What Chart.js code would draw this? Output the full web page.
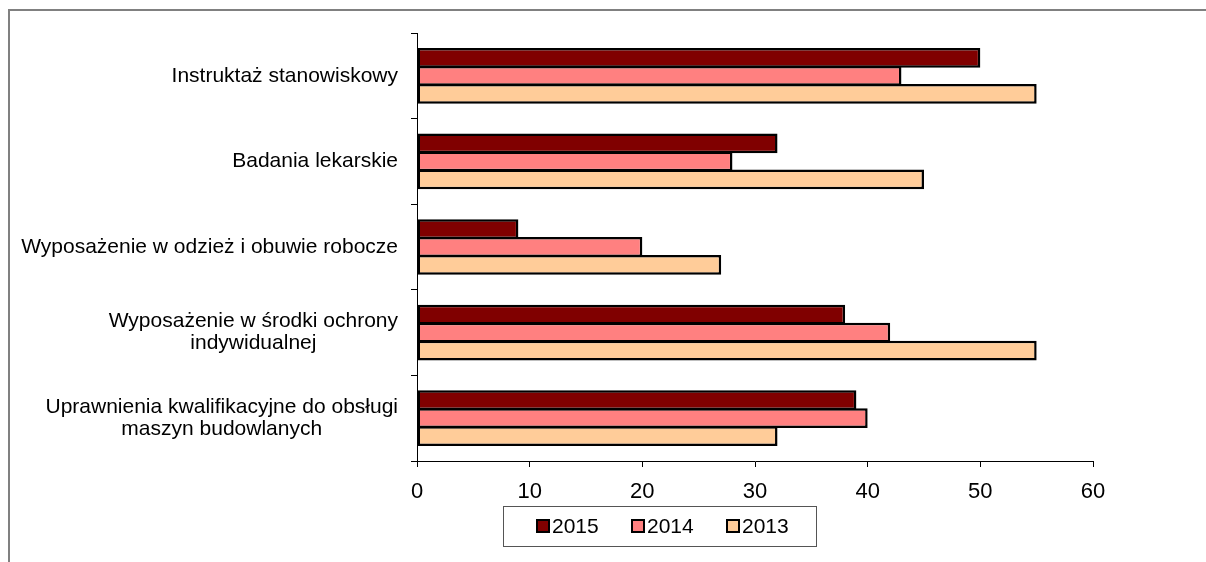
<!DOCTYPE html>
<html>
<head>
<meta charset="utf-8">
<script src="https://cdn.jsdelivr.net/npm/chart.js@4/dist/chart.umd.min.js"></script>
<style>
  html, body { margin: 0; padding: 0; background: #fff; }
  #wrap { width: 1206px; height: 562px; }
</style>
</head>
<body>
<div id="wrap"><canvas id="chart" width="1206" height="562"></canvas></div>
<script>
// chart data
const categories = [
    ['Instruktaż stanowiskowy'],
    ['Badania lekarskie'],
    ['Wyposażenie w odzież i obuwie robocze'],
    ['Wyposażenie w środki ochrony', 'indywidualnej'],
    ['Uprawnienia kwalifikacyjne do obsługi', 'maszyn budowlanych']
];
const seriesNames = ['2015', '2014', '2013'];
const values2015 = [50, 32, 9, 38, 39];
const values2014 = [43, 28, 20, 42, 40];
const values2013 = [55, 45, 27, 55, 32];
const xMin = 0;
const xMax = 60;
const xStep = 10;

const colors = ['#800000', '#FF8080', '#FFCC99'];
const FONT = '"Liberation Sans", Arial, sans-serif';

// outer frame (drawn before everything)
const framePlugin = {
    id: 'frame',
    beforeDraw(chart) {
        const ctx = chart.ctx;
        ctx.save();
        ctx.fillStyle = '#fff';
        ctx.fillRect(0, 0, chart.width, chart.height);
        ctx.strokeStyle = '#808080';
        ctx.lineWidth = 2;
        ctx.strokeRect(9, 10, chart.width + 20, chart.height + 20);
        ctx.restore();
    }
};

// category labels: right aligned block, lines centered to each other
const catLabelPlugin = {
    id: 'catLabels',
    afterDraw(chart) {
        const ctx = chart.ctx;
        const yScale = chart.scales.y;
        const rightEdge = 398;
        const lineH = 22;
        ctx.save();
        ctx.font = '21px ' + FONT;
        ctx.fillStyle = '#000';
        ctx.textAlign = 'center';
        ctx.textBaseline = 'middle';
        categories.forEach((lines, i) => {
            const y = yScale.getPixelForValue(i);
            const maxW = Math.max(...lines.map(l => ctx.measureText(l).width));
            const cx = rightEdge - maxW / 2;
            lines.forEach((l, j) => {
                ctx.fillText(l, cx, y + (j - (lines.length - 1) / 2) * lineH);
            });
        });
        ctx.restore();
    }
};

// boxed legend below the axis
const legendPlugin = {
    id: 'boxLegend',
    afterDraw(chart) {
        const ctx = chart.ctx;
        ctx.save();
        ctx.strokeStyle = '#555';
        ctx.lineWidth = 1;
        ctx.strokeRect(503.5, 506.5, 313, 40);
        ctx.font = '21px ' + FONT;
        ctx.textBaseline = 'middle';
        ctx.textAlign = 'left';
        chart.data.datasets.forEach((ds, i) => {
            const x = 537 + i * 95;
            const y = 526;
            ctx.fillStyle = ds.backgroundColor;
            ctx.fillRect(x, y - 6, 12, 12);
            ctx.strokeStyle = '#000';
            ctx.lineWidth = 2;
            ctx.strokeRect(x, y - 6, 12, 12);
            ctx.fillStyle = '#000';
            ctx.fillText(ds.label, x + 15, y + 1);
        });
        ctx.restore();
    }
};

const chart = new Chart(document.getElementById('chart').getContext('2d'), {
    type: 'bar',
    data: {
        labels: categories,
        datasets: [
            { label: seriesNames[0], data: values2015, backgroundColor: colors[0] },
            { label: seriesNames[1], data: values2014, backgroundColor: colors[1] },
            { label: seriesNames[2], data: values2013, backgroundColor: colors[2] }
        ].map(d => Object.assign(d, {
            borderColor: '#000',
            borderWidth: 2.5,
            borderSkipped: false,
            categoryPercentage: 0.63,
            barPercentage: 1.1
        }))
    },
    options: {
        indexAxis: 'y',
        responsive: false,
        animation: false,
        layout: { padding: { left: 0, right: 113, top: 33, bottom: 0 } },
        plugins: {
            legend: { display: false },
            tooltip: { enabled: false }
        },
        scales: {
            x: {
                min: xMin,
                max: xMax,
                border: { display: true, color: '#000', width: 1 },
                grid: { drawOnChartArea: false, drawTicks: true, tickLength: 6, color: '#000' },
                ticks: {
                    stepSize: xStep,
                    color: '#000',
                    padding: 12,
                    font: { family: FONT, size: 22 }
                },
                afterFit(scale) { scale.height = 101; }
            },
            y: {
                border: { display: true, color: '#000', width: 1 },
                grid: { drawOnChartArea: false, drawTicks: true, tickLength: 6, color: '#000', offset: true },
                ticks: { display: false },
                afterFit(scale) { scale.width = 417; }
            }
        }
    },
    plugins: [framePlugin, catLabelPlugin, legendPlugin]
});
</script>
</body>
</html>
